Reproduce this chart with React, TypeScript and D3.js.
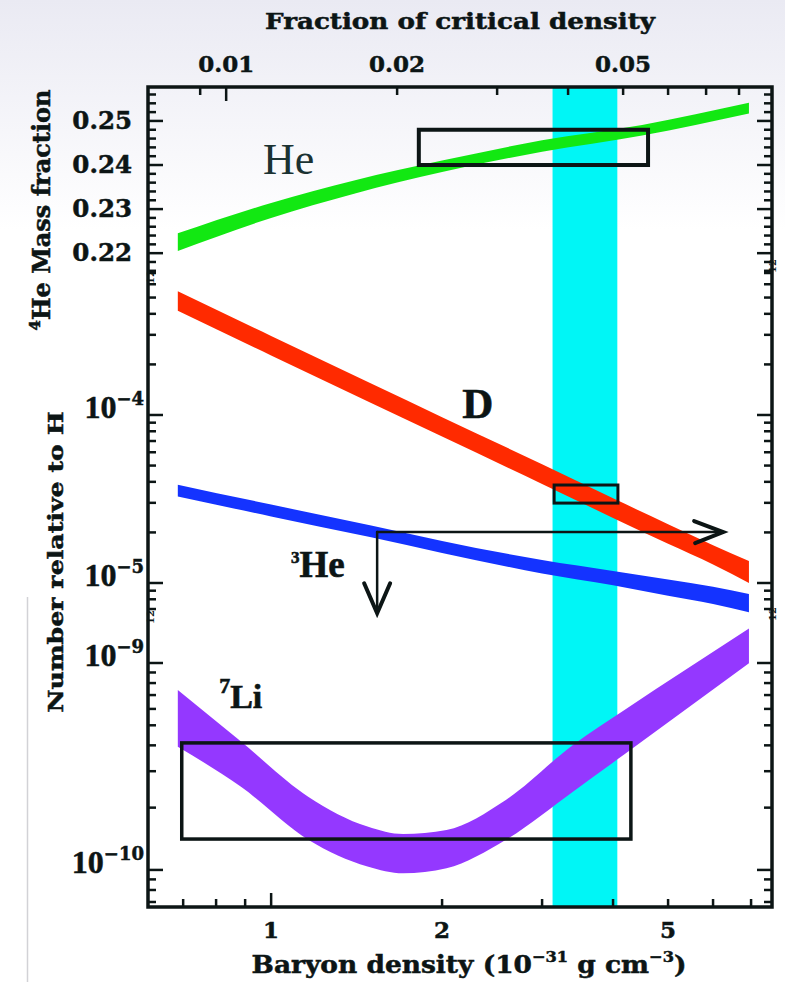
import * as d3 from "d3";

const W = 785;
const H = 982;

// baryon density (10^-31 g cm^-3) grid and band limits
const heDensity = [0.685, 1.0, 1.4, 2.0, 3.0, 4.5, 6.94];
const heLow = [0.2205, 0.228, 0.2335, 0.2384, 0.243, 0.2467, 0.2517];
const heHigh = [0.2245, 0.2314, 0.2365, 0.241, 0.2456, 0.2491, 0.2541];

const dDensity = [0.685, 1, 1.5, 2, 3, 4, 5, 6, 6.94];
const dLow = [4.17e-4, 2.26e-4, 1.18e-4, 7.44e-5, 3.89e-5, 2.44e-5, 1.71e-5, 1.29e-5, 1.0e-5];
const dHigh = [5.45e-4, 2.95e-4, 1.54e-4, 9.71e-5, 5.09e-5, 3.19e-5, 2.24e-5, 1.68e-5, 1.35e-5];

const he3Density = [0.685, 1, 1.5, 2, 3, 4, 5, 6, 6.94];
const he3Low = [3.27e-5, 2.49e-5, 1.87e-5, 1.51e-5, 1.14e-5, 9.7e-6, 8.4e-6, 7.5e-6, 6.7e-6];
const he3High = [3.85e-5, 2.93e-5, 2.2e-5, 1.78e-5, 1.37e-5, 1.18e-5, 1.05e-5, 9.5e-6, 8.6e-6];

const liDensity = [0.685, 0.885, 1.162, 1.478, 1.708, 2.036, 2.59, 3.4, 4.19, 6.94];
const liLow = [3.94e-10, 2.52e-10, 1.4e-10, 1.04e-10, 9.64e-11, 1.02e-10, 1.4e-10, 2.39e-10, 3.62e-10, 9.96e-10];
const liHigh = [7.41e-10, 4.17e-10, 2.26e-10, 1.62e-10, 1.49e-10, 1.56e-10, 2.18e-10, 4.02e-10, 5.93e-10, 1.47e-9];

// observational boxes and the concordance band
const concordance = [3.13, 4.07];
const heBox = { d: [1.82, 4.61], v: [0.24, 0.248] };
const dBox = { d: [3.15, 4.08], v: [2.99e-5, 3.83e-5] };
const liBox = { d: [0.696, 4.3], v: [1.41e-10, 4.11e-10] };
const he3Arrow = { d: 1.537, v: 2.01e-5, dEnd: 6.25, vEnd: 6.6e-6 };

// ticks
const bottomLabels = [1, 2, 5];
const topTicks = [0.009, 0.01, 0.02, 0.03, 0.04, 0.05, 0.06, 0.07, 0.08];
const topLabels = ["0.01", "0.02", "0.05"];
const heLabels = [0.22, 0.23, 0.24, 0.25];
const midLabels = [{ v: 1e-4, e: "\u22124" }, { v: 1e-5, e: "\u22125" }];
const liLabels = [{ v: 1e-9, e: "\u22129" }, { v: 1e-10, e: "\u221210" }];

const INK = "#0c1515";
const BOLD = "DejaVu Serif";

export default function App() {
  const left = 148, right = 772, top = 87, bottom = 907;
  const split1 = 273, split2 = 618;

  const x = d3.scaleLog().domain([0.607, 7.62]).range([left, right]);
  const xTop = d3.scaleLog().domain([0.607 * 0.012, 7.62 * 0.012]).range([left, right]);
  const yHe = d3.scaleLinear().domain([0.2155, 0.2577]).range([split1, top]);
  const yMid = d3.scaleLog().domain([6.19e-6, 7.0e-4]).range([split2, split1]);
  const yLi = d3.scaleLog().domain([6.62e-11, 1.65e-9]).range([bottom, split2]);

  const band = (xs: number[], lo: number[], hi: number[], y: any) =>
    d3
      .area<number>()
      .x((i) => x(xs[i]))
      .y0((i) => y(lo[i]))
      .y1((i) => y(hi[i]))
      .curve(d3.curveMonotoneX)(d3.range(xs.length)) || "";

  const isDecade = (v: number) => Math.abs(Math.log10(v) - Math.round(Math.log10(v))) < 1e-6;

  // y ticks: [y, length]
  const yTickList: [number, number][] = [];
  d3.range(0.216, 0.2575, 0.002).forEach((v) => {
    const major = heLabels.some((m) => Math.abs(m - v) < 1e-6);
    yTickList.push([yHe(v), major ? 15 : 8]);
  });
  yMid.ticks().forEach((v) => yTickList.push([yMid(v), isDecade(v) ? 15 : 8]));
  yLi.ticks().forEach((v) => yTickList.push([yLi(v), isDecade(v) ? 15 : 8]));

  const bx = (b: { d: number[] }) => [x(b.d[0]), x(b.d[1])];

  const a = he3Arrow;
  const ax0 = x(a.d), ay0 = yMid(a.v), axEnd = x(a.dEnd), ayEnd = yMid(a.vEnd);

  return (
    <div style={{ position: "absolute", left: 0, top: 0 }}>
      <svg width={W} height={H} style={{ display: "block" }}>
        <defs>
          <linearGradient id="bg" gradientUnits="userSpaceOnUse" x1={0} y1={0} x2={0} y2={230}>
            <stop offset="0" stopColor="#eaeaf3" />
            <stop offset="1" stopColor="#ffffff" />
          </linearGradient>
        </defs>
        <rect width={W} height={H} fill="url(#bg)" />
        <rect x={0} y={597} width={27} height={H - 597} fill="#ffffff" />
        <line x1={27.5} x2={27.5} y1={597} y2={H} stroke="#d2d2d6" strokeWidth={1.5} />

        {/* concordance band */}
        <rect x={x(concordance[0])} y={top} width={x(concordance[1]) - x(concordance[0])} height={bottom - top} fill="#00f6f6" />

        {/* abundance bands */}
        <path d={band(heDensity, heLow, heHigh, yHe)} fill="#12e812" />
        <path d={band(dDensity, dLow, dHigh, yMid)} fill="#ff2a00" />
        <path d={band(he3Density, he3Low, he3High, yMid)} fill="#1433ff" />
        <path d={band(liDensity, liLow, liHigh, yLi)} fill="#9438ff" />

        {/* observation boxes */}
        <rect x={bx(heBox)[0]} y={yHe(heBox.v[1])} width={bx(heBox)[1] - bx(heBox)[0]} height={yHe(heBox.v[0]) - yHe(heBox.v[1])} fill="none" stroke={INK} strokeWidth={4} />
        <rect x={bx(dBox)[0]} y={yMid(dBox.v[1])} width={bx(dBox)[1] - bx(dBox)[0]} height={yMid(dBox.v[0]) - yMid(dBox.v[1])} fill="none" stroke={INK} strokeWidth={3} />
        <rect x={bx(liBox)[0]} y={yLi(liBox.v[1])} width={bx(liBox)[1] - bx(liBox)[0]} height={yLi(liBox.v[0]) - yLi(liBox.v[1])} fill="none" stroke={INK} strokeWidth={3.5} />

        {/* 3He arrows */}
        <g stroke={INK} fill="none" strokeLinecap="round" strokeLinejoin="miter">
          <line x1={ax0} y1={ay0} x2={axEnd - 3} y2={ay0} strokeWidth={2.5} />
          <polyline points={`${axEnd - 29},${ay0 - 11} ${axEnd},${ay0} ${axEnd - 28},${ay0 + 11}`} strokeWidth={4} />
          <line x1={ax0} y1={ay0} x2={ax0} y2={ayEnd - 3} strokeWidth={2.5} />
          <polyline points={`${ax0 - 13},${ayEnd - 30} ${ax0},${ayEnd} ${ax0 + 13},${ayEnd - 30}`} strokeWidth={4} />
        </g>

        {/* annotations */}
        <text x={x(0.968)} y={yHe(0.238)} fontFamily="Liberation Serif" fontSize={44} fill="#1b3232">He</text>
        <g stroke={INK} strokeWidth={0.6}>
          <text x={x(2.17)} y={yMid(9.6e-5)} fontFamily="Liberation Serif" fontWeight="bold" fontSize={43} fill={INK}>D</text>
          <text x={x(1.084)} y={yMid(1.09e-5)} fontFamily="Liberation Serif" fontWeight="bold" fill={INK}>
            <tspan fontSize={17} dy={-14}>3</tspan>
            <tspan fontSize={37} dy={14}>He</tspan>
          </text>
          <text x={x(0.81)} y={yLi(6.07e-10)} fontFamily="Liberation Serif" fontWeight="bold" fill={INK}>
            <tspan fontSize={22} dy={-15}>7</tspan>
            <tspan fontSize={34} dy={15}>Li</tspan>
          </text>
        </g>

        {/* ticks */}
        <g stroke={INK} strokeWidth={2.5}>
          {yTickList.map(([yy, len], i) => (
            <g key={"yt" + i}>
              <line x1={left} x2={left + len} y1={yy} y2={yy} />
              <line x1={right} x2={right - len} y1={yy} y2={yy} />
            </g>
          ))}
          {x.ticks().map((v, i) => (
            <line key={"bt" + i} x1={x(v)} x2={x(v)} y1={bottom} y2={bottom - (isDecade(v) ? 14 : 8)} />
          ))}
          {topTicks.map((v, i) => (
            <line key={"tt" + i} x1={xTop(v)} x2={xTop(v)} y1={top} y2={top + (isDecade(v) ? 14 : 8)} />
          ))}
        </g>

        {/* frame */}
        <rect x={left} y={top} width={right - left} height={bottom - top} fill="none" stroke={INK} strokeWidth={3.5} />

        {/* tick labels */}
        <g fontFamily={BOLD} fontWeight="bold" fill={INK} stroke={INK} strokeWidth={0.5}>
          {heLabels.map((v) => (
            <text key={"hl" + v} x={132} y={yHe(v) + 8} textAnchor="end" fontSize={24.5}>{v.toFixed(2)}</text>
          ))}
          {[...midLabels.map((l) => ({ ...l, y: yMid(l.v) })), ...liLabels.map((l) => ({ ...l, y: yLi(l.v) }))].map((l) => (
            <text key={"ll" + l.e} x={144} y={l.y + 3} textAnchor="end">
              <tspan fontFamily="Liberation Serif" fontSize={32}>10</tspan>
              <tspan fontSize={18} dy={-13}>{l.e}</tspan>
            </text>
          ))}
          {bottomLabels.map((v) => (
            <text key={"bl" + v} x={x(v)} y={938} textAnchor="middle" fontSize={23}>{v}</text>
          ))}
          {topLabels.map((s) => (
            <text key={"tl" + s} x={xTop(+s)} y={72} textAnchor="middle" fontSize={23}>{s}</text>
          ))}

          {/* boundary label remnants */}
          {[[150, 277], [150, 617], [772, 266], [772, 614]].map(([px, py], i) => (
            <text key={"rm" + i} x={px} y={py} fontSize={10} strokeWidth={0} textAnchor="middle" transform={`rotate(-90 ${px} ${py})`} dy={4}>12</text>
          ))}

          {/* axis titles */}
          <text x={460} y={29} textAnchor="middle" fontSize={22} textLength={390} lengthAdjust="spacingAndGlyphs">Fraction of critical density</text>
          <text transform="translate(469,973) scale(1.08,1)" textAnchor="middle" fontSize={24.5}>
            Baryon density (10<tspan fontSize={15} dy={-11}>{"\u221231"}</tspan>
            <tspan dy={11}> g cm</tspan>
            <tspan fontSize={15} dy={-11}>{"\u22123"}</tspan>
            <tspan dy={11}>)</tspan>
          </text>
          <text transform="translate(50,210) rotate(-90)" textAnchor="middle" fontSize={24}>
            <tspan fontSize={15} dy={-10}>4</tspan>
            <tspan dy={10}>He Mass fraction</tspan>
          </text>
          <text transform="translate(63,562) rotate(-90)" textAnchor="middle" fontSize={21} textLength={301} lengthAdjust="spacingAndGlyphs">Number relative to H</text>
        </g>
      </svg>
    </div>
  );
}
